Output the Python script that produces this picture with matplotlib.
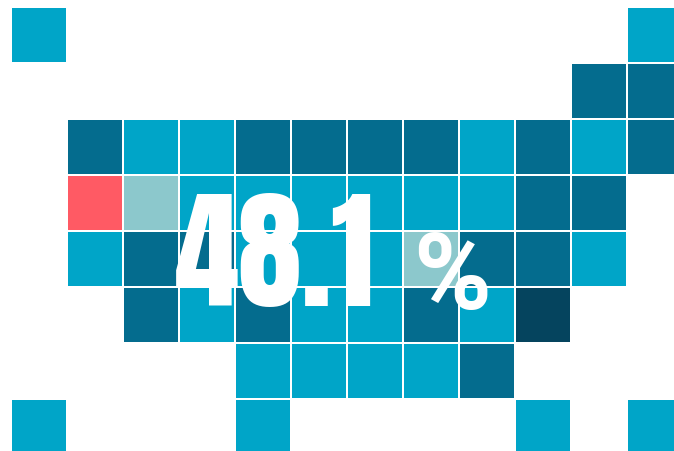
import matplotlib
matplotlib.use('Agg')
import matplotlib.pyplot as plt
from matplotlib.patches import Rectangle

# tile map, one string per row, '.' = no tile
# b = blue, d = dark, x = darkest, p = pale, r = red
row_0 = "b..........b"
row_1 = "..........dd"
row_2 = ".dbbddddbdbd"
row_3 = ".rpbbbbbbdd."
row_4 = ".bddbbbpddb."
row_5 = "..dbdbbdbx.."
row_6 = "....bbbbd..."
row_7 = "b...b....b.b"
tile_rows = [row_0, row_1, row_2, row_3, row_4, row_5, row_6, row_7]

tile_colors = {
    'b': '#00a5c8',
    'd': '#046c8e',
    'x': '#05445e',
    'p': '#8cc8cc',
    'r': '#ff5a64',
}
big_value = "48.1"
big_unit = "%"

fig = plt.figure(figsize=(6.74, 4.52), dpi=100)
ax = fig.add_axes([0, 0, 1, 1])
ax.set_xlim(-12 / 56, 662 / 56)
ax.set_ylim(443.5 / 56, -8.5 / 56)
ax.axis('off')

for r, row in enumerate(tile_rows):
    for c, code in enumerate(row):
        if code == '.':
            continue
        ax.add_patch(Rectangle((c, r), 54 / 56, 54 / 56, facecolor=tile_colors[code], edgecolor='none'))

ax.text(4.7, 5.32, big_value, color='white', fontsize=93, fontweight='normal',
        family=['Anton', 'Liberation Sans', 'DejaVu Sans'], ha='center', va='baseline')
ax.text(8.55, 5.36, big_unit, color='white', fontsize=76, fontweight='bold',
        family=['Roboto', 'Liberation Sans', 'DejaVu Sans'], ha='right', va='baseline')

fig.savefig('out.png', dpi=100)
plt.close(fig)
